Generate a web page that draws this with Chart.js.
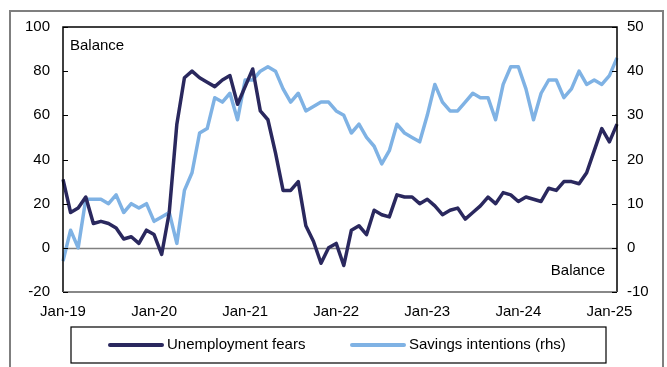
<!DOCTYPE html>
<html>
<head>
<meta charset="utf-8">
<script src="https://cdn.jsdelivr.net/npm/chart.js@4.4.1/dist/chart.umd.min.js"></script>
<style>
  html, body { margin: 0; padding: 0; background: #fff; }
  #wrap { width: 667px; height: 367px; }
</style>
</head>
<body>
<div id="wrap"><canvas id="chart" width="667" height="367"></canvas></div>
<script>
// months Jan-19 .. Feb-25
const monthNames = ["Jan", "Feb", "Mar", "Apr", "May", "Jun", "Jul", "Aug", "Sep", "Oct", "Nov", "Dec"];
const years = ["19", "20", "21", "22", "23", "24", "25"];
const tickLabels = ["Jan-19", "Jan-20", "Jan-21", "Jan-22", "Jan-23", "Jan-24", "Jan-25"];

const categories = [];
years.forEach(y => monthNames.forEach(m => categories.push(m + "-" + y)));
categories.length = 74;

// Balance, lhs
const unemploymentFears = [
  31, 16, 18, 23, 11, 12, 11, 9, 4, 5, 2, 8,
  6, -3, 16, 56, 77, 80, 77, 75, 73, 76, 78, 65,
  73, 81, 62, 58, 43, 26, 26, 30, 10, 3, -7, 0,
  2, -8, 8, 10, 6, 17, 15, 14, 24, 23, 23, 20,
  22, 19, 15, 17, 18, 13, 16, 19, 23, 20, 25, 24,
  21, 23, 22, 21, 27, 26, 30, 30, 29, 34, 44, 54,
  48, 56
];

// Balance, rhs
const savingsIntentions = [
  -3, 4, 0, 11, 11, 11, 10, 12, 8, 10, 9, 10,
  6, 7, 8, 1, 13, 17, 26, 27, 34, 33, 35, 29,
  38, 38, 40, 41, 40, 36, 33, 35, 31, 32, 33, 33,
  31, 30, 26, 28, 25, 23, 19, 22, 28, 26, 25, 24,
  30, 37, 33, 31, 31, 33, 35, 34, 34, 29, 37, 41,
  41, 36, 29, 35, 38, 38, 34, 36, 40, 37, 38, 37,
  39, 43
];

const seriesNames = ["Unemployment fears", "Savings intentions (rhs)"];
const darkBlue = "#2a285e";
const lightBlue = "#7fb2e4";
const FONT = "'Liberation Sans', Arial, sans-serif";

const decorations = {
  id: "decorations",
  beforeDraw(chart) {
    const ctx = chart.ctx;
    ctx.save();
    ctx.fillStyle = "#fff";
    ctx.fillRect(0, 0, chart.width, chart.height);
    // outer frame
    ctx.strokeStyle = "#7f7f7f";
    ctx.lineWidth = 2;
    ctx.strokeRect(10, 11, 653, 370);
    ctx.restore();
  },
  beforeDatasetsDraw(chart) {
    const {ctx, chartArea: a, scales} = chart;
    ctx.save();
    ctx.strokeStyle = "#808080";
    ctx.lineWidth = 1.5;
    const y0 = Math.round(scales.y.getPixelForValue(0)) + 0.5;
    ctx.beginPath();
    ctx.moveTo(a.left, y0);
    ctx.lineTo(a.right, y0);
    ctx.stroke();
    ctx.restore();
  },
  afterDraw(chart) {
    const {ctx, chartArea: a, scales} = chart;
    ctx.save();
    // plot box
    ctx.lineWidth = 1.5;
    ctx.strokeStyle = "#000";
    ctx.beginPath();
    ctx.moveTo(a.left, a.bottom);
    ctx.lineTo(a.left, a.top);
    ctx.lineTo(a.right, a.top);
    ctx.lineTo(a.right, a.bottom);
    ctx.stroke();
    ctx.strokeStyle = "#606060";
    ctx.beginPath();
    ctx.moveTo(a.left, a.bottom);
    ctx.lineTo(a.right, a.bottom);
    ctx.stroke();

    // inner ticks
    ctx.strokeStyle = "#000";
    ctx.lineWidth = 1;
    scales.y.ticks.forEach(t => {
      const y = Math.round(scales.y.getPixelForValue(t.value)) + 0.5;
      ctx.beginPath();
      ctx.moveTo(a.left, y);
      ctx.lineTo(a.left + 5, y);
      ctx.stroke();
    });
    scales.y1.ticks.forEach(t => {
      const y = Math.round(scales.y1.getPixelForValue(t.value)) + 0.5;
      ctx.beginPath();
      ctx.moveTo(a.right - 5, y);
      ctx.lineTo(a.right, y);
      ctx.stroke();
    });

    // axis notes
    ctx.fillStyle = "#000";
    ctx.font = "15px " + FONT;
    ctx.textBaseline = "middle";
    ctx.textAlign = "left";
    ctx.fillText("Balance", a.left + 7, 46);
    ctx.textAlign = "right";
    ctx.fillText("Balance", a.right - 12, 271);

    // legend box
    const lx = 71, ly = 327, lw = 535, lh = 36;
    ctx.strokeStyle = "#000";
    ctx.lineWidth = 1.2;
    ctx.strokeRect(lx, ly, lw, lh);
    const items = [
      {x: 110, color: darkBlue, text: seriesNames[0]},
      {x: 352, color: lightBlue, text: seriesNames[1]}
    ];
    ctx.textAlign = "left";
    items.forEach(it => {
      ctx.strokeStyle = it.color;
      ctx.lineWidth = 4;
      ctx.lineCap = "round";
      ctx.beginPath();
      ctx.moveTo(it.x, ly + lh / 2);
      ctx.lineTo(it.x + 52, ly + lh / 2);
      ctx.stroke();
      ctx.fillText(it.text, it.x + 57, ly + lh / 2);
    });
    ctx.restore();
  }
};

new Chart(document.getElementById("chart"), {
  type: "line",
  data: {
    labels: categories,
    datasets: [
      {
        label: seriesNames[0],
        data: unemploymentFears,
        yAxisID: "y",
        borderColor: darkBlue,
        borderWidth: 3.5,
        pointRadius: 0,
        tension: 0,
        borderJoinStyle: "round"
      },
      {
        label: seriesNames[1],
        data: savingsIntentions,
        yAxisID: "y1",
        borderColor: lightBlue,
        borderWidth: 3.5,
        pointRadius: 0,
        tension: 0,
        borderJoinStyle: "round"
      }
    ]
  },
  options: {
    responsive: false,
    animation: false,
    devicePixelRatio: 1,
    layout: { padding: { top: 27, left: 0, right: 0, bottom: 0 } },
    plugins: { legend: { display: false }, tooltip: { enabled: false } },
    scales: {
      x: {
        offset: false,
        grid: { display: false, drawTicks: false },
        border: { display: false },
        ticks: {
          autoSkip: false,
          maxRotation: 0,
          color: "#000",
          font: { family: FONT, size: 15 },
          padding: 11,
          callback: (v, i) => tickLabels.includes(categories[i]) ? categories[i] : ""
        },
        afterFit: s => { s.height = 75; }
      },
      y: {
        position: "left",
        min: -20, max: 100,
        grid: { display: false, drawTicks: false },
        border: { display: false },
        ticks: { stepSize: 20, color: "#000", font: { family: FONT, size: 15 }, padding: 13 },
        afterFit: s => { s.width = 63; }
      },
      y1: {
        position: "right",
        min: -10, max: 50,
        grid: { display: false, drawTicks: false },
        border: { display: false },
        ticks: { stepSize: 10, color: "#000", font: { family: FONT, size: 15 }, padding: 10 },
        afterFit: s => { s.width = 50; }
      }
    }
  },
  plugins: [decorations]
});
</script>
</body>
</html>
